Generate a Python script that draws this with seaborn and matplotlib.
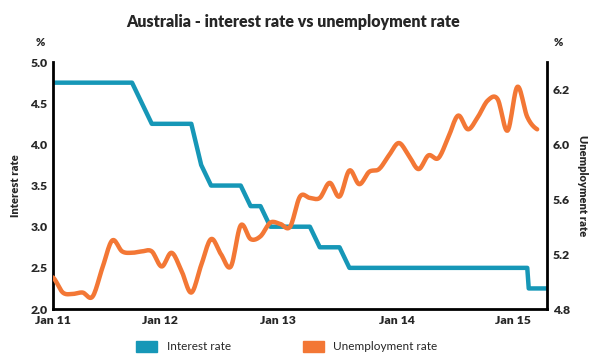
import numpy as np
import pandas as pd
import matplotlib
matplotlib.use('Agg')
import matplotlib.pyplot as plt
import seaborn as sns
from matplotlib.patches import Patch

# months since Jan 2011
unemp_month = list(range(50))
unemp_rate = [5.03, 4.92, 4.91, 4.92, 4.89, 5.10, 5.30, 5.22, 5.21, 5.22,
              5.22, 5.11, 5.21, 5.08, 4.92, 5.12, 5.31, 5.20, 5.11, 5.41,
              5.31, 5.33, 5.43, 5.42, 5.40, 5.62, 5.61, 5.61, 5.72, 5.62,
              5.81, 5.71, 5.80, 5.82, 5.92, 6.01, 5.92, 5.82, 5.92, 5.90,
              6.05, 6.21, 6.11, 6.20, 6.32, 6.33, 6.10, 6.42, 6.20, 6.11]

rate_month = list(range(49)) + [48.15, 49, 50]
interest_rate = ([4.75] * 9 + [4.5] + [4.25] * 5 + [3.75] + [3.5] * 4 +
                 [3.25] * 2 + [3.0] * 5 + [2.75] * 3 + [2.5] * 19 +
                 [2.25] * 3)

xtick_pos = [0, 10.8, 22.8, 34.8, 46.6]
xtick_labels = ['Jan 11', 'Jan 12', 'Jan 13', 'Jan 14', 'Jan 15']
left_ticks = [2.0, 2.5, 3.0, 3.5, 4.0, 4.5, 5.0]
right_ticks = [4.8, 5.2, 5.6, 6.0, 6.4]
right_tick_labels = ['4.8', '5.2', '5.6', '6.0', '6.2']

blue = '#1697b7'
orange = '#f37735'


def smooth(x, y, n=12):
    # catmull-rom through the read points, just for drawing
    x = np.asarray(x, float)
    y = np.asarray(y, float)
    p = np.concatenate([[y[0]], y, [y[-1]]])
    xs, ys = [], []
    for i in range(len(y) - 1):
        t = np.linspace(0, 1, n, endpoint=False)
        p0, p1, p2, p3 = p[i], p[i + 1], p[i + 2], p[i + 3]
        yy = 0.5 * ((2 * p1) + (-p0 + p2) * t +
                    (2 * p0 - 5 * p1 + 4 * p2 - p3) * t ** 2 +
                    (-p0 + 3 * p1 - 3 * p2 + p3) * t ** 3)
        xs.append(x[i] + (x[i + 1] - x[i]) * t)
        ys.append(yy)
    xs.append([x[-1]])
    ys.append([y[-1]])
    return np.concatenate(xs), np.concatenate(ys)


sns.set_style('white')
plt.rcParams['font.family'] = ['Lato', 'DejaVu Sans']

fig = plt.figure(figsize=(6, 3.61), dpi=100)
ax = fig.add_axes([0.0883, 0.144, 0.8234, 0.684])
ax2 = ax.twinx()

rate_df = pd.DataFrame({'month': rate_month, 'rate': interest_rate})
sns.lineplot(data=rate_df, x='month', y='rate', ax=ax, color=blue,
             lw=3.2, sort=False, estimator=None)

sx, sy = smooth(unemp_month, unemp_rate)
unemp_df = pd.DataFrame({'month': sx, 'rate': sy})
sns.lineplot(data=unemp_df, x='month', y='rate', ax=ax2, color=orange,
             lw=3.2, sort=False, estimator=None)

ax.set_xlim(0, 50)
ax.set_ylim(2.0, 5.0)
ax2.set_ylim(4.8, 6.6)
ax.set_xticks(xtick_pos)
ax.set_xticklabels(xtick_labels)
ax.set_yticks(left_ticks)
ax.set_yticklabels([f'{v:.1f}' for v in left_ticks])
ax2.set_yticks(right_ticks)
ax2.set_yticklabels(right_tick_labels)

for a in (ax, ax2):
    a.grid(False)
    a.set_xlabel('')
    a.tick_params(length=0, labelsize=8.8, pad=4)
    for lab in a.get_xticklabels() + a.get_yticklabels():
        lab.set_fontweight('heavy')
    for s in a.spines.values():
        s.set_color('black')
        s.set_linewidth(2)
    a.spines['top'].set_visible(False)
ax.spines['right'].set_visible(False)
ax2.spines['left'].set_visible(False)
ax2.spines['bottom'].set_visible(False)

ax.set_ylabel('Interest rate', fontsize=8, fontweight='heavy', labelpad=7)
ax2.set_ylabel('Unemployment rate', fontsize=8, fontweight='heavy',
               rotation=270, labelpad=13)

fig.text(0.068, 0.872, '%', fontsize=8, fontweight='heavy', ha='center')
fig.text(0.93, 0.872, '%', fontsize=8, fontweight='heavy', ha='center')
fig.text(0.488, 0.94, 'Australia - interest rate vs unemployment rate',
         fontsize=11.5, fontweight='heavy', ha='center', va='center')

handles = [Patch(color=blue, label='Interest rate'),
           Patch(color=orange, label='Unemployment rate')]
fig.legend(handles=handles, loc='center', bbox_to_anchor=(0.478, 0.04),
           ncol=2, frameon=False, fontsize=8.5, handlelength=1.8,
           handleheight=1.1, columnspacing=6.1, handletextpad=0.8)

fig.savefig('out.png', dpi=100)
